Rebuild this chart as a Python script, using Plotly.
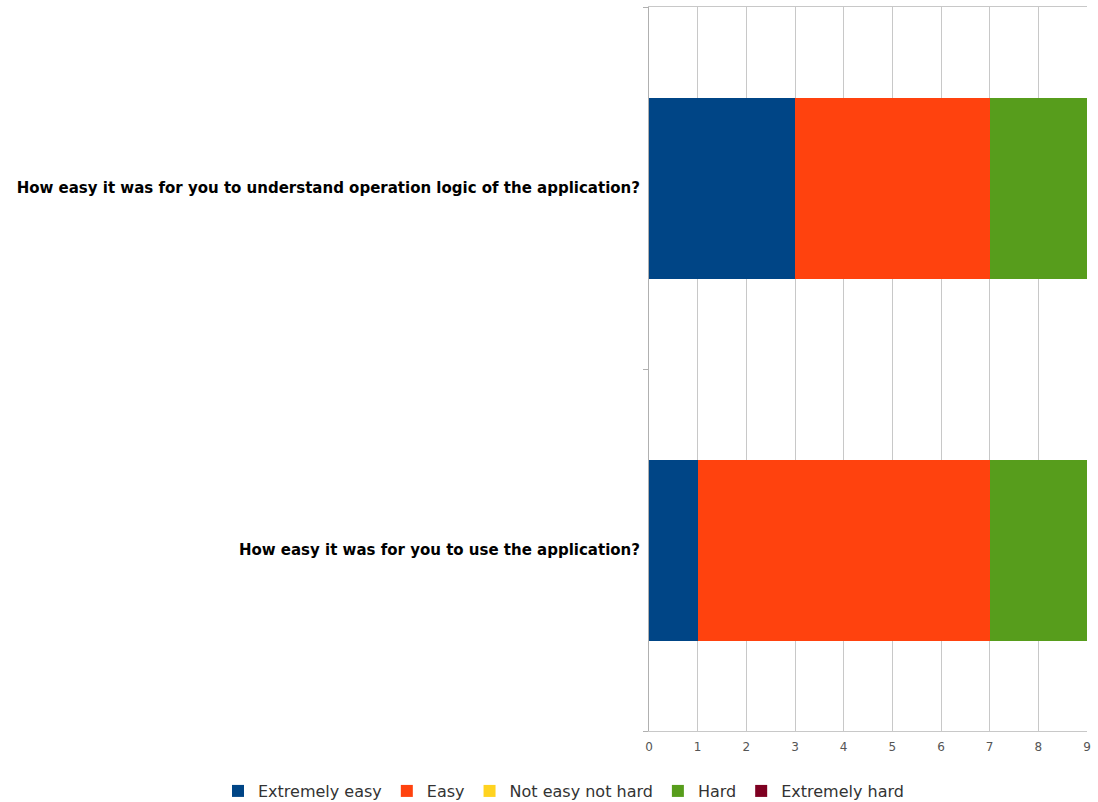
import plotly.graph_objects as go

questions = [
    "How easy it was for you to use the application?",
    "How easy it was for you to understand operation logic of the application?",
]
series_names = ["Extremely easy", "Easy", "Not easy not hard", "Hard", "Extremely hard"]
series_values = [
    [1, 3],
    [6, 4],
    [0, 0],
    [2, 2],
    [0, 0],
]
series_colors = ["#004586", "#ff420e", "#ffd320", "#579d1c", "#7e0021"]
x_ticks = list(range(0, 10))

fig = go.Figure()
for name, vals, color in zip(series_names, series_values, series_colors):
    fig.add_trace(go.Bar(
        y=questions, x=vals, name=name, orientation="h",
        marker=dict(color=color, line=dict(width=0)),
    ))

fig.update_layout(
    barmode="stack",
    bargap=0.5,
    width=1098, height=802,
    margin=dict(l=649, r=11, t=7, b=71, autoexpand=False),
    paper_bgcolor="white", plot_bgcolor="white",
    font=dict(family="DejaVu Sans", color="#333333"),
    legend=dict(
        orientation="h",
        x=-0.984, xanchor="left",
        y=-0.0829, yanchor="middle",
        font=dict(size=16, color="#333333"), traceorder="normal",
        itemwidth=30, tracegroupgap=0,
    ),
    showlegend=True,
)
fig.update_xaxes(
    range=[0, 9], tickvals=x_ticks, ticktext=[str(t) for t in x_ticks],
    showgrid=True, gridcolor="#c8c8c8", gridwidth=1,
    showline=True, linecolor="#c8c8c8", mirror=True,
    tickfont=dict(size=12, color="#555555"), ticks="", zeroline=False,
    ticklabelstandoff=5,
)
fig.update_yaxes(
    type="category", categoryorder="array", categoryarray=questions,
    tickson="boundaries", ticks="outside", ticklen=5, tickcolor="#b0b0b0",
    showgrid=False, showline=True, linecolor="#b0b0b0",
    tickfont=dict(family="DejaVu Sans", size=15, color="#000000", weight="bold"),
    ticklabelstandoff=5,
)

fig.write_html("out.html")
